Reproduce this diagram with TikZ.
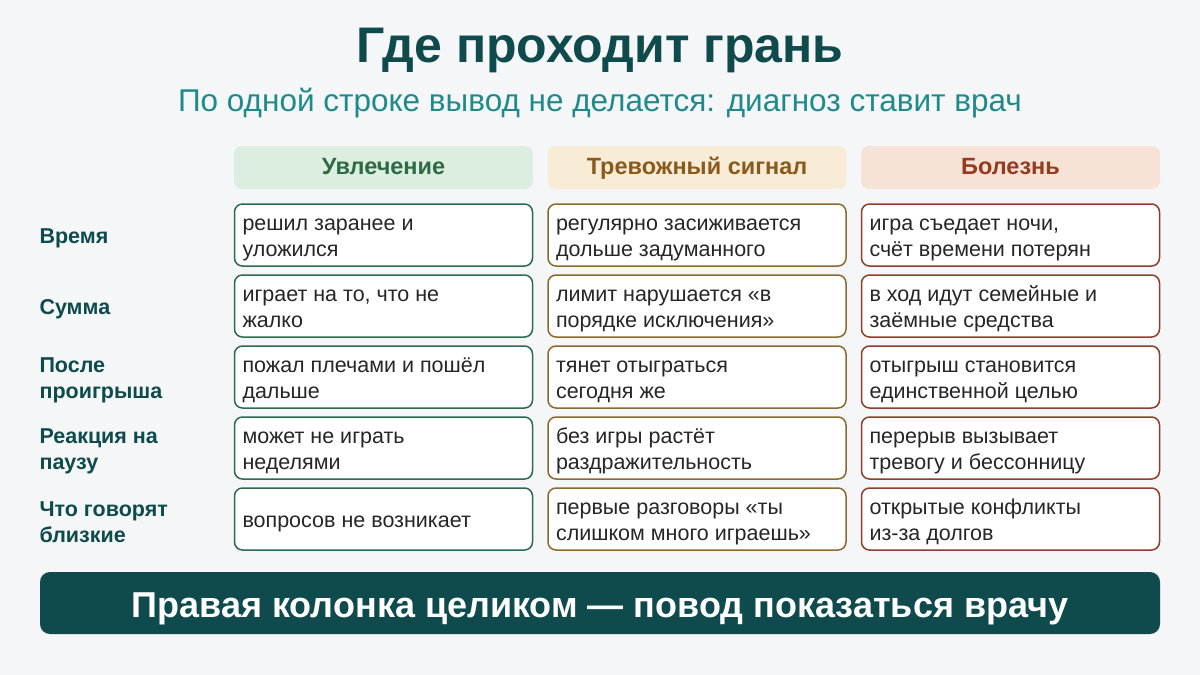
\documentclass[tikz,border=0pt]{standalone}
\usepackage{fontspec}
\setmainfont{Liberation Sans}
\definecolor{bg}{HTML}{F4F6F7}
\definecolor{dteal}{HTML}{0F4A4C}
\definecolor{lteal}{HTML}{1F8A8C}
\definecolor{gfill}{HTML}{DCEEDF}\definecolor{gtext}{HTML}{2E6B45}\definecolor{gline}{HTML}{2E6B4E}
\definecolor{yfill}{HTML}{F8ECD6}\definecolor{ytext}{HTML}{8A5A1C}\definecolor{yline}{HTML}{8B6A30}
\definecolor{rfill}{HTML}{F7E2D8}\definecolor{rtext}{HTML}{963A20}\definecolor{rline}{HTML}{8E3E2C}
\newcommand\celltext[1]{\parbox{282pt}{\raggedright\rule{0pt}{24.5pt}#1\strut}}
\newcommand\hdrtext[1]{\rule[-7pt]{0pt}{27pt}#1}
\begin{document}
\begin{tikzpicture}[x=1pt,y=-1pt,
 hdr/.style={rounded corners=8pt,minimum width=299pt,minimum height=43pt,inner ysep=0pt,font=\fontsize{23.5}{28}\selectfont\bfseries},
 cell/.style={draw,line width=1.5pt,fill=white,rounded corners=8pt,minimum width=298pt,minimum height=62pt,inner xsep=8pt,inner ysep=1pt,font=\fontsize{21.5}{26}\selectfont,text=black!85},
 lab/.style={anchor=west,align=left,font=\fontsize{21.5}{26}\selectfont\bfseries,text=dteal}]
\fill[bg] (0,0) rectangle (1200,675);
\useasboundingbox (0,0) rectangle (1200,675);
\node[font=\fontsize{50}{58}\selectfont\bfseries,text=dteal] (t) at (600,50) {Где проходит грань};
\node[font=\fontsize{31.5}{36}\selectfont,text=lteal] (s) at (600,103) {По одной строке вывод не делается: диагноз ставит врач};
\node[hdr,fill=gfill,text=gtext] (h1) at (383.5,167.5) {\hdrtext{Увлечение}};
\node[hdr,fill=yfill,text=ytext] (h2) at (697,167.5) {\hdrtext{Тревожный сигнал}};
\node[hdr,fill=rfill,text=rtext] (h3) at (1010.5,167.5) {\hdrtext{Болезнь}};
\foreach \i/\l/\a/\b/\c in {
0/{Время}/{решил заранее и\\уложился}/{регулярно засиживается\\дольше задуманного}/{игра съедает ночи,\\счёт времени потерян},
1/{Сумма}/{играет на то, что не\\жалко}/{лимит нарушается «в\\порядке исключения»}/{в ход идут семейные и\\заёмные средства},
2/{После\\проигрыша}/{пожал плечами и пошёл\\дальше}/{тянет отыграться\\сегодня же}/{отыгрыш становится\\единственной целью},
3/{Реакция на\\паузу}/{может не играть\\неделями}/{без игры растёт\\раздражительность}/{перерыв вызывает\\тревогу и бессонницу},
4/{Что говорят\\близкие}/{вопросов не возникает}/{первые разговоры «ты\\слишком много играешь»}/{открытые конфликты\\из-за долгов}}{
 \pgfmathsetmacro\yy{235+71*\i}
 \node[lab] (l\i) at (36,\yy+3) {\l};
 \node[cell,draw=gline] (a\i) at (383.5,\yy) {\celltext{\a}};
 \node[cell,draw=yline] (b\i) at (697,\yy) {\celltext{\b}};
 \node[cell,draw=rline] (c\i) at (1010.5,\yy) {\celltext{\c}};
}
\node[fill=dteal,rounded corners=10pt,minimum width=1120pt,minimum height=62pt,text=white,font=\fontsize{36}{42}\selectfont\bfseries] (f) at (600,603) {\rule{0pt}{36pt}Правая колонка целиком — повод показаться врачу};
\end{tikzpicture}
\end{document}
